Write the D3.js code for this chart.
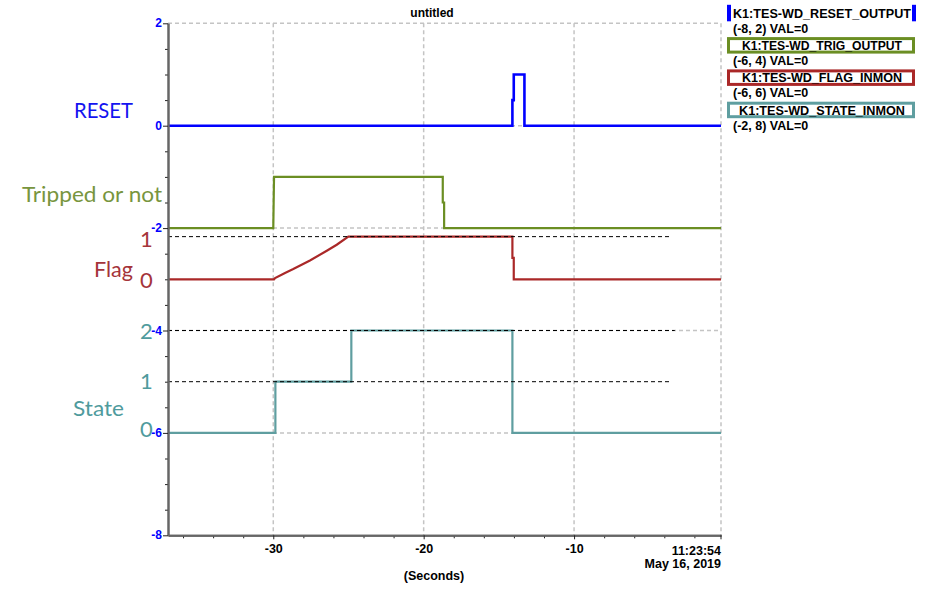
<!DOCTYPE html>
<html>
<head>
<meta charset="utf-8">
<script src="https://cdn.jsdelivr.net/npm/d3@7"></script>
<style>
  html, body { margin: 0; padding: 0; background: #fff; }
  svg { display: block; }
</style>
</head>
<body>
<svg id="chart" width="927" height="595"></svg>
<script>
// ---------------- DATA ----------------
const chartTitle = "untitled";
const timeDomain = [-37, -0.23];
const axisDomain = [-8, 2];
const yTickValues = [2, 0, -2, -4, -6, -8];
const xTickValues = [-30, -20, -10];
const xAxisTitle = "(Seconds)";
const timeStampLines = ["11:23:54", "May 16, 2019"];

const seriesNames = ["K1:TES-WD_RESET_OUTPUT", "K1:TES-WD_TRIG_OUTPUT", "K1:TES-WD_FLAG_INMON", "K1:TES-WD_STATE_INMON"];
const seriesRanges = [[-8, 2], [-6, 4], [-6, 6], [-2, 8]];
const seriesValNow = [0, 0, 0, 0];

const resetT = [-37, -14.10, -14.10, -14.01, -14.01, -13.30, -13.30, -0.23];
const resetV = [0, 0, 0.5, 0.5, 1, 1, 0, 0];

const trigT = [-37, -30.00, -29.95, -18.73, -18.73, -18.64, -18.64, -0.23];
const trigV = [0, 0, 1, 1, 0.5, 0.5, 0, 0];

const flagT = [-37, -29.95, -29.88, -29.22, -28.67, -27.56, -26.44, -25.78, -25.01, -14.10, -14.10, -14.01, -14.01, -0.23];
const flagV = [0, 0, 0.03, 0.15, 0.24, 0.44, 0.67, 0.81, 1, 1, 0.5, 0.5, 0, 0];

const stateT = [-37, -29.86, -29.86, -24.81, -24.81, -14.10, -14.10, -0.23];
const stateV = [0, 0, 1, 1, 2, 2, 0, 0];

// reference (black dashed) levels: series index, value, end time
const refSeries = [2, 3, 3];
const refValues = [1, 2, 1];
const refEnds = [-3.6, -3.3, -3.5];

// annotation labels drawn at the left
const annoText = ["RESET", "Tripped or not", "Flag", "1", "0", "State", "2", "1", "0"];

// ---------------- STYLE / LAYOUT ----------------
const W = 927, H = 595;
const plot = { left: 168, right: 721, top: 23.3, bottom: 535.3 };
const lineColors = ["#0000ff", "#6b8e23", "#aa2828", "#5f9ea0"];
const lineWidths = [2.6, 2.2, 2.2, 2.2];
const labelColors = ["#1414f0", "#78953e", "#a5343a", "#4f9b9d"];
const annoColor = [0, 1, 2, 2, 2, 3, 3, 3, 3];
const annoPos = [[74, 118], [22, 202], [94, 277], [140, 247], [140, 288], [73, 416], [140, 339], [140, 389], [140, 437]];
const annoLen = [59, 140, 39, null, null, 51, null, null, null];

const svg = d3.select("#chart");
svg.append("rect").attr("width", W).attr("height", H).attr("fill", "#fff");

const x = d3.scaleLinear().domain(timeDomain).range([plot.left, plot.right]);
const y = d3.scaleLinear().domain(axisDomain).range([plot.bottom, plot.top]);

function toAxis(i, v) {
  const [lo, hi] = seriesRanges[i];
  return axisDomain[0] + (v - lo) / (hi - lo) * (axisDomain[1] - axisDomain[0]);
}

// grid
const grid = svg.append("g").attr("stroke", "#c4c4c4").attr("stroke-width", 1.5).attr("stroke-dasharray", "4,3");
yTickValues.filter(d => d !== axisDomain[0]).forEach(d => {
  grid.append("line").attr("x1", plot.left).attr("x2", plot.right).attr("y1", y(d)).attr("y2", y(d));
});
xTickValues.concat([timeDomain[1]]).forEach(d => {
  grid.append("line").attr("x1", x(d)).attr("x2", x(d)).attr("y1", plot.top).attr("y2", plot.bottom);
});

// series
const allT = [resetT, trigT, flagT, stateT];
const allV = [resetV, trigV, flagV, stateV];
const line = d3.line().x(d => x(d[0])).y(d => y(d[1]));
allT.forEach((ts, i) => {
  const pts = ts.map((t, k) => [t, toAxis(i, allV[i][k])]);
  svg.append("path").datum(pts).attr("d", line)
    .attr("fill", "none").attr("stroke", lineColors[i]).attr("stroke-width", lineWidths[i])
    .attr("stroke-linejoin", "miter");
});

// reference dashed lines
refSeries.forEach((s, k) => {
  const yy = y(toAxis(s, refValues[k]));
  svg.append("line").attr("x1", plot.left).attr("x2", x(refEnds[k]))
    .attr("y1", yy).attr("y2", yy)
    .attr("stroke", "#000").attr("stroke-width", 1).attr("stroke-dasharray", "4,3");
});

// axes
const fontAxis = "'Liberation Sans', Arial, sans-serif";
const minorY = d3.range(axisDomain[0], axisDomain[1] + 0.01, 0.5).filter(d => !yTickValues.includes(d));
const gyMinor = svg.append("g").attr("transform", `translate(${plot.left},0)`)
  .call(d3.axisLeft(y).tickValues(minorY).tickSize(3).tickSizeOuter(0).tickFormat(""));
const gy = svg.append("g").attr("transform", `translate(${plot.left},0)`)
  .call(d3.axisLeft(y).tickValues(yTickValues).tickSize(5).tickSizeOuter(0).tickPadding(1).tickFormat(d => String(d)));
[gyMinor, gy].forEach(g => {
  g.select(".domain").attr("stroke", "#666").attr("stroke-width", 2);
  g.selectAll(".tick line").attr("stroke", "#222");
});
gy.selectAll(".tick text").attr("fill", "#0000ff").attr("font-family", fontAxis)
  .attr("font-weight", "bold").attr("font-size", 12).attr("dy", "0.3em");

const minorX = d3.range(-36, 0, 2).filter(d => !xTickValues.includes(d));
const gxMinor = svg.append("g").attr("transform", `translate(0,${plot.bottom})`)
  .call(d3.axisBottom(x).tickValues(minorX).tickSize(3).tickSizeOuter(0).tickFormat(""));
const gx = svg.append("g").attr("transform", `translate(0,${plot.bottom})`)
  .call(d3.axisBottom(x).tickValues(xTickValues).tickSize(4).tickSizeOuter(0).tickPadding(5).tickFormat(d => String(d)));
[gxMinor, gx].forEach(g => {
  g.select(".domain").attr("stroke", "#666").attr("stroke-width", 2);
  g.selectAll(".tick line").attr("stroke", "#222");
});
gx.selectAll(".tick text").attr("fill", "#000").attr("font-family", fontAxis)
  .attr("font-weight", "bold").attr("font-size", 12.5);
svg.append("line").attr("x1", plot.right).attr("x2", plot.right).attr("y1", plot.bottom).attr("y2", plot.bottom + 4).attr("stroke", "#222");

timeStampLines.forEach((t, k) => {
  svg.append("text").attr("x", plot.right).attr("y", 555 + k * 13).attr("text-anchor", "end")
    .attr("font-family", fontAxis).attr("font-weight", "bold").attr("font-size", 12.5).text(t);
});
svg.append("text").attr("x", 434).attr("y", 580).attr("text-anchor", "middle")
  .attr("font-family", fontAxis).attr("font-weight", "bold").attr("font-size", 12.5).text(xAxisTitle);

// title
svg.append("text").attr("x", 432).attr("y", 17).attr("text-anchor", "middle")
  .attr("font-family", fontAxis).attr("font-weight", "bold").attr("font-size", 12).text(chartTitle);

// legend
const legX = 727, legW = 188, legH = 16.5, legStep = 32.3, legY0 = 4.8;
seriesNames.forEach((name, i) => {
  const yy = legY0 + i * legStep;
  if (i === 0) {
    svg.append("rect").attr("x", legX).attr("y", yy).attr("width", 4).attr("height", legH).attr("fill", lineColors[i]);
    svg.append("rect").attr("x", legX + legW - 3).attr("y", yy).attr("width", 4).attr("height", legH).attr("fill", lineColors[i]);
  }
  else {
    svg.append("rect").attr("x", legX + 1.5).attr("y", yy + 1.5).attr("width", legW - 3).attr("height", legH - 3)
      .attr("fill", "#fff").attr("stroke", lineColors[i]).attr("stroke-width", 3);
  }
  const nameLen = [178, 160, 160, 166][i];
  svg.append("text").attr("x", legX + legW / 2 + 1).attr("y", yy + 13).attr("text-anchor", "middle")
    .attr("font-family", fontAxis).attr("font-weight", "bold").attr("font-size", 13).attr("fill", "#000")
    .attr("textLength", nameLen).attr("lengthAdjust", "spacingAndGlyphs").text(name);
  svg.append("text").attr("x", legX + 6).attr("y", yy + 28)
    .attr("font-family", fontAxis).attr("font-weight", "bold").attr("font-size", 12.5).attr("fill", "#000")
    .text(`(${seriesRanges[i][0]}, ${seriesRanges[i][1]}) VAL=${seriesValNow[i]}`);
});

// annotation labels
annoText.forEach((t, k) => {
  const el = svg.append("text").attr("x", annoPos[k][0]).attr("y", annoPos[k][1])
    .attr("font-family", "Lato, 'Open Sans', sans-serif").attr("font-size", 22)
    .attr("fill", labelColors[annoColor[k]]).text(t);
  if (annoLen[k]) el.attr("textLength", annoLen[k]).attr("lengthAdjust", "spacingAndGlyphs");
});
</script>
</body>
</html>
